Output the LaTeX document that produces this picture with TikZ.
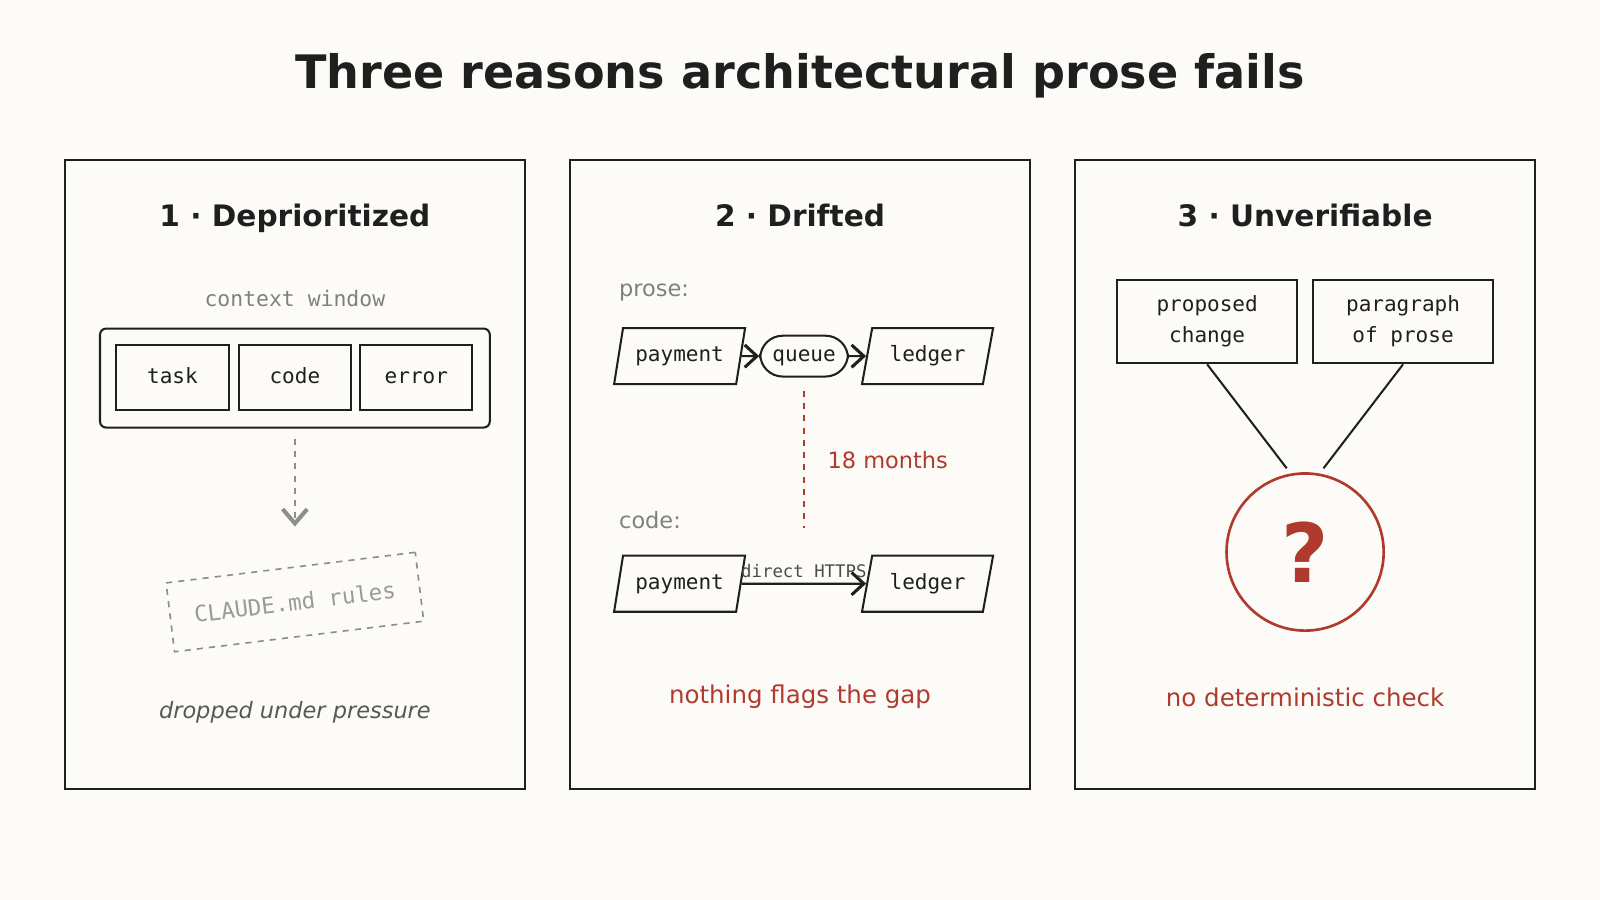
\documentclass[tikz,border=0pt]{standalone}
\usepackage{fontspec}
\setmainfont{DejaVu Sans}
\setmonofont{DejaVu Sans Mono}
\usetikzlibrary{shapes.geometric,arrows.meta,positioning}
\definecolor{ink}{HTML}{1F1F1F}
\definecolor{paper}{HTML}{FCFBF8}
\definecolor{alert}{HTML}{B03A2E}
\definecolor{mute}{HTML}{808080}
\tikzset{
  panel/.style={draw=ink, line width=1pt, minimum width=225.5pt, minimum height=308pt},
  box/.style={draw=ink, line width=1pt, font=\ttfamily\fontsize{10.3}{15}\selectfont, text=ink},
  slot/.style={box, minimum width=55pt, minimum height=31.5pt, text height=7.5pt, text depth=2pt},
  para/.style={box, trapezium, trapezium left angle=78, trapezium right angle=102,
    trapezium stretches=true, minimum width=64.5pt, minimum height=27.5pt, inner xsep=0pt,
    text height=7.5pt, text depth=2pt},
  flow/.style={line width=1.1pt, draw=ink, -{Straight Barb[length=6pt,width=11pt,line width=1.5pt]}},
  head/.style={font=\bfseries\fontsize{14.5}{18}\selectfont, text=ink, anchor=base}
}
\begin{document}
\begin{tikzpicture}[x=0.5pt, y=-0.5pt]
\useasboundingbox[fill=paper] (0,0) rectangle (1568,882);
\node[font=\bfseries\fontsize{22.6}{28}\selectfont, text=ink] (title) at (784,74) {Three reasons architectural prose fails};
% panels
\node[panel] (p1) at (289,465) {};
\node[panel] (p2) at (784,465) {};
\node[panel] (p3) at (1279,465) {};
\node[head] (h1) at (289,222) {1 · Deprioritized};
\node[head] (h2) at (784,222) {2 · Drifted};
\node[head] (h3) at (1279,222) {3 · Unverifiable};
% 1: context window
\node[font=\ttfamily\fontsize{10.5}{12}\selectfont, text=mute] (cw) at (289,293) {context window};
\draw[ink, line width=1pt, rounded corners=3pt] (98,322) rectangle (480,419);
\node[slot] (task) at (169,370) {task};
\node[slot] (code) at (289,370) {code};
\node[slot] (err) at (408,370) {error};
\coordinate (cwb) at (289,430);
\node[draw=mute!90, line width=0.8pt, dashed, rotate=7, minimum width=123pt, minimum height=34pt,
  font=\ttfamily\fontsize{11}{13}\selectfont, text=mute!80] (rules) at (289,590) {CLAUDE.md rules};
\draw[mute!90, line width=1.2pt, dashed, -{Straight Barb[length=7pt,width=12pt,line width=2pt]}] (cwb) -- (289,516);
\node[font=\itshape\fontsize{11}{13}\selectfont, text=ink!75] (drop) at (289,698) {dropped under pressure};
% 2: drift
\node[font=\fontsize{11}{13}\selectfont, text=mute] (prose) at (641,287) {prose:};
\node[para] (pay1) at (666,349) {payment};
\node[box, rounded corners=11pt, minimum width=43pt, minimum height=20pt, inner sep=2pt,
  text height=7.5pt, text depth=2pt] (queue) at (788,349) {queue};
\node[para] (led1) at (909,349) {ledger};
\draw[flow] (pay1) -- (queue);
\draw[flow] (queue) -- (led1);
\coordinate (gapa) at (788,383);
\coordinate (gapb) at (788,517);
\draw[alert, line width=1.1pt, dash pattern=on 3pt off 3pt] (gapa) -- (gapb);
\node[font=\fontsize{11}{13}\selectfont, text=alert, anchor=west] (months) at (804,451) {18 months};
\node[font=\fontsize{11}{13}\selectfont, text=mute] (codel) at (637,510) {code:};
\node[para] (pay2) at (666,572) {payment};
\node[para] (led2) at (909,572) {ledger};
\draw[flow] (pay2) -- node[above=-1pt, font=\ttfamily\fontsize{8.5}{10}\selectfont, text=ink!80] {direct HTTPS} (led2);
\node[font=\fontsize{12}{14}\selectfont, text=alert] (gap) at (784,683) {nothing flags the gap};
% 3: unverifiable
\node[box, minimum width=88pt, minimum height=41pt, align=center] (prop) at (1183,315) {proposed\\change};
\node[box, minimum width=88pt, minimum height=41pt, align=center] (parg) at (1375,315) {paragraph\\of prose};
\node[circle, draw=alert, line width=1.3pt, minimum size=77pt, font=\bfseries\fontsize{40}{44}\selectfont, text=alert] (q) at (1279,541) {?};
\draw[ink, line width=1pt] (prop.south) -- (1261,459);
\draw[ink, line width=1pt] (parg.south) -- (1297,459);
\node[font=\fontsize{12}{14}\selectfont, text=alert] (nocheck) at (1279,683) {no deterministic check};
\end{tikzpicture}
\end{document}
